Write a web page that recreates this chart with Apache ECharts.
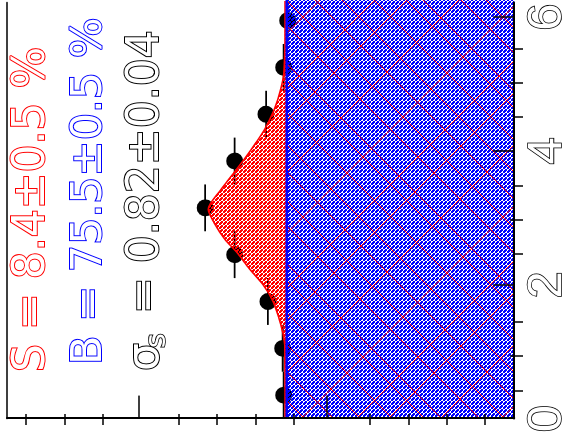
<!DOCTYPE html>
<html><head><meta charset="utf-8">
<script src="https://cdn.jsdelivr.net/npm/echarts@6/dist/echarts.min.js"></script>
<style>
html,body{margin:0;padding:0;width:573px;height:436px;overflow:hidden;background:#fff}
#chart{position:absolute;left:0;top:436px;width:436px;height:573px;transform-origin:0 0;transform:rotate(-90deg);}
</style></head><body><div id="chart"></div>
<script>
// ---- data ----
const binCenters = [0.35, 1.05, 1.75, 2.45, 3.15, 3.85, 4.55, 5.25, 5.95];
const counts     = [122.7, 123.2, 131.1, 148.8, 164.5, 148.8, 132.1, 122.7, 120.6];
const binHalfWidths = [0.35, 0.35, 0.35, 0.35, 0.35, 0.35, 0.35, 0.35, 0.35];
const fitX     = [0, 0.9, 1.13, 1.27, 1.51, 1.76, 2.00, 2.24, 2.49, 2.68, 2.93, 3.13, 3.40, 3.63, 3.88, 4.13, 4.36, 4.61, 4.90, 5.15, 5.5, 6.3];
const fitTotal = [122.0, 122.1, 122.3, 123.0, 125.3, 128.5, 133.7, 141.0, 147.8, 154.0, 159.8, 162.9, 156.7, 150.4, 143.6, 137.3, 132.1, 127.9, 124.5, 122.6, 122.1, 122.0];
const backgroundLevel = 121.1;
const bgX = [0, 6.3];
const xMajorTicks = [0, 2, 4, 6];
const xMidTicks = [1, 3, 5];
const xMinorTicks = [0.5, 1.5, 2.5, 3.5, 4.5, 5.5];
const xTickLabels = ['0', '2', '4', '6'];
const yMajorTicks = [0, 100, 200];
const yMinorTicks = [20, 40, 60, 80, 120, 140, 160, 180, 220, 240, 260];
const textS = 'S = 8.4\u00b10.5 %';
const textB = 'B = 75.5\u00b10.5 %';
const textSigma = '\u03c3';
const textSigmaSub = 's';
const textSigmaVal = '= 0.82\u00b10.04';

// ---- fill patterns ----
function makePattern(color, withLines) {
  const n = withLines ? 200 : 4;
  const c = document.createElement('canvas');
  c.width = n; c.height = n;
  const g = c.getContext('2d');
  g.fillStyle = color;
  for (let y = 0; y < n; y++) for (let x = 0; x < n; x++) {
    const a = x % 4, b = y % 4;
    let on;
    if (a < 2 && b < 2) on = true;
    else if (a >= 2 && b >= 2) on = (a === b);
    else on = ((a + b) % 2 === 1);
    if (on) g.fillRect(x, y, 1, 1);
  }
  if (withLines) {
    g.fillStyle = '#ff0000';
    const dA = [9, 41, 58, 96, 121, 150, 177];   // appear as "\" after rotation
    const dB = [23, 84, 139, 171];               // appear as "/" after rotation
    for (let x = 0; x < n; x++) {
      dA.forEach(o => { g.fillRect(x, (((o - x) % n) + n) % n, 1, 1); });
      dB.forEach(o => { g.fillRect(x, (o + x) % n, 1, 1); });
    }
  }
  return c;
}
const redPattern = makePattern('#ff0000', false);
const bluePattern = makePattern('#0000ff', true);

const points = binCenters.map((x, i) => [x, counts[i], binHalfWidths[i]]);
const fitData = fitX.map((x, i) => [x, fitTotal[i]]);
const bgData = bgX.map(x => [x, backgroundLevel]);

const chart = echarts.init(document.getElementById('chart'), null, {renderer: 'canvas'});
const gridLayout = {left: 11, right: 0, top: 7, bottom: 50};
const tickStyle = {color: '#000', width: 1.5};
const X_MAX = 6.22, Y_MAX = 270;
const textFont = '44px "DejaVu Sans"';
const outlineW = 2;

function hiddenLabel() { return {show: false}; }

chart.setOption({
  animation: false,
  backgroundColor: '#fff',
  grid: [Object.assign({show: false}, gridLayout), Object.assign({show: false}, gridLayout), Object.assign({show: false}, gridLayout)],
  xAxis: [
    {gridIndex: 0, type: 'value', min: 0, max: X_MAX, interval: 2, position: 'bottom', z: 10,
     axisLine: {show: true, onZero: false, lineStyle: {color: '#000', width: 2}},
     axisTick: {show: true, inside: true, length: 21, lineStyle: tickStyle, customValues: xMajorTicks},
     axisLabel: {show: true, margin: 9, color: '#fff', textBorderColor: '#000', textBorderWidth: 1.6,
       fontSize: 49, fontFamily: 'Liberation Sans', customValues: xMajorTicks,
       formatter: v => { const i = xMajorTicks.indexOf(Math.round(v)); return i >= 0 ? xTickLabels[i] : ''; }},
     splitLine: {show: false}},
    {gridIndex: 0, type: 'value', min: 0, max: X_MAX, position: 'top', z: 10,
     axisLine: {show: true, onZero: false, lineStyle: {color: '#000', width: 1.5}},
     axisTick: {show: false}, axisLabel: hiddenLabel(), splitLine: {show: false}},
    {gridIndex: 1, type: 'value', min: 0, max: X_MAX, interval: 1, position: 'bottom', z: 10,
     axisLine: {show: false},
     axisTick: {show: true, inside: true, length: 13, lineStyle: tickStyle, customValues: xMidTicks},
     axisLabel: hiddenLabel(), splitLine: {show: false}},
    {gridIndex: 2, type: 'value', min: 0, max: X_MAX, interval: 0.5, position: 'bottom', z: 10,
     axisLine: {show: false},
     axisTick: {show: true, inside: true, length: 8, lineStyle: tickStyle, customValues: xMinorTicks},
     axisLabel: hiddenLabel(), splitLine: {show: false}}
  ],
  yAxis: [
    {gridIndex: 0, type: 'value', min: 0, max: Y_MAX, interval: 100, position: 'left', z: 10,
     axisLine: {show: true, onZero: false, lineStyle: {color: '#000', width: 2}},
     axisTick: {show: true, inside: true, length: 23, lineStyle: tickStyle, customValues: yMajorTicks},
     axisLabel: hiddenLabel(), splitLine: {show: false}},
    {gridIndex: 1, type: 'value', min: 0, max: Y_MAX, interval: 20, position: 'left', z: 10,
     axisLine: {show: false},
     axisTick: {show: true, inside: true, length: 11, lineStyle: tickStyle, customValues: yMinorTicks},
     axisLabel: hiddenLabel(), splitLine: {show: false}},
    {gridIndex: 2, type: 'value', min: 0, max: Y_MAX, position: 'left',
     axisLine: {show: false}, axisTick: {show: false}, axisLabel: hiddenLabel(), splitLine: {show: false}}
  ],
  graphic: [
    {type: 'text', left: 63, top: 10, z: 20, style: {text: textS, font: textFont, fill: '#fff', stroke: '#ff0000', lineWidth: outlineW}},
    {type: 'text', left: 70, top: 67, z: 20, style: {text: textB, font: '43px "DejaVu Sans"', fill: '#fff', stroke: '#0000ff', lineWidth: outlineW}},
    {type: 'text', left: 64, top: 124, z: 20, style: {text: textSigma, font: textFont, fill: '#fff', stroke: '#000', lineWidth: outlineW}},
    {type: 'text', left: 87, top: 142, z: 20, style: {text: textSigmaSub, font: '29px "DejaVu Sans"', fill: '#fff', stroke: '#000', lineWidth: 1.7}},
    {type: 'text', left: 121, top: 124, z: 20, style: {text: textSigmaVal, font: textFont, fill: '#fff', stroke: '#000', lineWidth: outlineW}}
  ],
  series: [
    {type: 'custom', xAxisIndex: 0, yAxisIndex: 0, z: 2, data: points,
     renderItem: function (params, api) {
       const x = api.value(0), y = api.value(1), e = api.value(2);
       const p1 = api.coord([x - e, y]), p2 = api.coord([x + e, y]);
       return {type: 'line', shape: {x1: p1[0], y1: p1[1], x2: p2[0], y2: p2[1]}, style: {stroke: '#000', lineWidth: 1.8}};
     }},
    {type: 'scatter', xAxisIndex: 0, yAxisIndex: 0, z: 2, symbol: 'circle', symbolSize: 17,
     itemStyle: {color: '#000', opacity: 1}, data: points.map(p => [p[0], p[1]])},
    {type: 'line', xAxisIndex: 0, yAxisIndex: 0, z: 3, data: fitData, smooth: 0.3, showSymbol: false,
     lineStyle: {color: '#ff0000', width: 1.6},
     areaStyle: {color: {image: redPattern, repeat: 'repeat'}, origin: backgroundLevel, opacity: 1}},
    {type: 'line', xAxisIndex: 0, yAxisIndex: 0, z: 4, data: bgData, showSymbol: false,
     lineStyle: {color: '#0000ff', width: 2.5},
     areaStyle: {color: {image: bluePattern, repeat: 'repeat'}, origin: 'start', opacity: 1}}
  ]
});
</script></body></html>
